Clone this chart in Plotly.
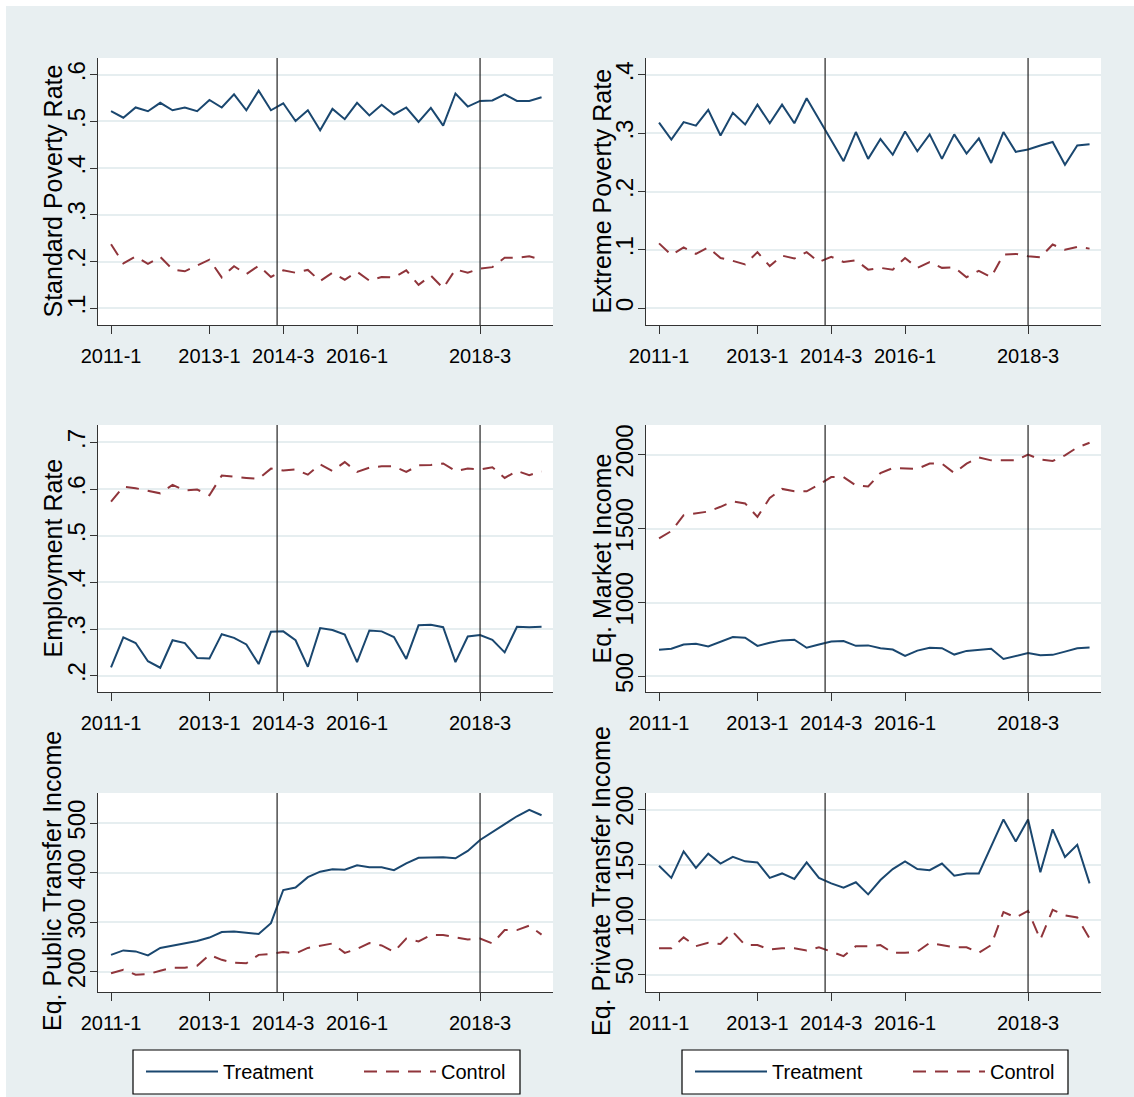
import plotly.graph_objects as go

# Quarterly periods 2011-1 ... 2019-4
periods = [f"{y}-{q}" for y in range(2011, 2020) for q in range(1, 5)]
x_idx = list(range(len(periods)))

xtick_vals = [0, 8, 14, 20, 30]
xtick_text = ["2011-1", "2013-1", "2014-3", "2016-1", "2018-3"]
event_lines = [13.5, 30]

pov_std_treat = [0.522, 0.508, 0.530, 0.522, 0.540, 0.524, 0.530, 0.522, 0.546, 0.530, 0.558, 0.524,
                 0.566, 0.524, 0.539, 0.501, 0.524, 0.481, 0.527, 0.505, 0.540, 0.513, 0.536, 0.515,
                 0.530, 0.499, 0.529, 0.491, 0.560, 0.532, 0.544, 0.545, 0.558, 0.544, 0.544, 0.552]
pov_std_ctrl = [0.237, 0.196, 0.211, 0.195, 0.210, 0.183, 0.179, 0.191, 0.204, 0.166, 0.190, 0.173,
                0.191, 0.167, 0.181, 0.176, 0.182, 0.158, 0.176, 0.161, 0.178, 0.159, 0.167, 0.166,
                0.181, 0.150, 0.170, 0.143, 0.183, 0.176, 0.185, 0.188, 0.208, 0.208, 0.211, 0.204]

pov_ext_treat = [0.318, 0.289, 0.319, 0.313, 0.340, 0.296, 0.335, 0.315, 0.349, 0.317, 0.349, 0.317,
                 0.360, 0.323, 0.288, 0.252, 0.302, 0.256, 0.290, 0.263, 0.303, 0.269, 0.298, 0.256,
                 0.298, 0.265, 0.291, 0.249, 0.302, 0.268, 0.272, 0.279, 0.285, 0.246, 0.279, 0.281]
pov_ext_ctrl = [0.111, 0.091, 0.104, 0.093, 0.104, 0.086, 0.081, 0.075, 0.096, 0.072, 0.090, 0.085,
                0.096, 0.079, 0.088, 0.079, 0.082, 0.066, 0.069, 0.066, 0.086, 0.069, 0.079, 0.069,
                0.070, 0.053, 0.064, 0.053, 0.092, 0.093, 0.089, 0.087, 0.109, 0.100, 0.105, 0.102]

emp_treat = [0.218, 0.282, 0.270, 0.231, 0.217, 0.276, 0.270, 0.238, 0.237, 0.289, 0.281, 0.267,
             0.225, 0.294, 0.295, 0.276, 0.219, 0.302, 0.298, 0.288, 0.229, 0.297, 0.295, 0.283,
             0.236, 0.308, 0.309, 0.304, 0.229, 0.284, 0.287, 0.277, 0.250, 0.305, 0.304, 0.305]
emp_ctrl = [0.573, 0.605, 0.602, 0.597, 0.591, 0.609, 0.597, 0.599, 0.587, 0.629, 0.626, 0.624,
            0.622, 0.644, 0.640, 0.642, 0.631, 0.653, 0.639, 0.658, 0.637, 0.646, 0.649, 0.649,
            0.637, 0.651, 0.652, 0.655, 0.639, 0.644, 0.642, 0.647, 0.624, 0.639, 0.630, 0.638]

mkt_treat = [680, 687, 716, 721, 703, 737, 766, 762, 707, 728, 744, 748,
             694, 716, 737, 739, 707, 710, 691, 682, 639, 675, 694, 691,
             648, 673, 680, 687, 618, 639, 659, 643, 646, 668, 691, 696]
mkt_ctrl = [1433, 1483, 1590, 1602, 1615, 1647, 1684, 1670, 1579, 1706, 1768, 1752,
            1752, 1797, 1848, 1848, 1791, 1784, 1875, 1909, 1909, 1904, 1939, 1939,
            1875, 1939, 1980, 1961, 1961, 1961, 2000, 1966, 1957, 1995, 2048, 2080]

pub_treat = [234, 243, 241, 233, 248, 253, 257, 262, 269, 280, 281, 279,
             276, 298, 365, 370, 391, 402, 407, 406, 415, 411, 411, 405,
             419, 430, 430, 431, 429, 444, 466, 482, 499, 514, 527, 516]
pub_ctrl = [197, 204, 194, 195, 202, 208, 208, 212, 234, 224, 218, 217,
            234, 236, 240, 237, 248, 253, 257, 238, 246, 258, 253, 240,
            267, 261, 274, 274, 269, 265, 267, 257, 284, 284, 293, 275]

priv_treat = [149, 138, 162, 147, 160, 151, 157, 153, 152, 138, 142, 137,
              152, 138, 133, 129, 134, 123, 136, 146, 153, 146, 145, 151,
              140, 142, 142, 166, 191, 171, 191, 143, 182, 157, 168, 133]
priv_ctrl = [74, 74, 84, 76, 79, 78, 89, 77, 77, 73, 74, 74,
             72, 75, 71, 67, 76, 76, 77, 70, 70, 71, 79, 77,
             75, 75, 70, 77, 107, 102, 108, 82, 109, 104, 102, 83]

panel_titles = ["Standard Poverty Rate", "Extreme Poverty Rate", "Employment Rate",
                "Eq. Market Income", "Eq. Public Transfer Income", "Eq. Private Transfer Income"]
treat_series = [pov_std_treat, pov_ext_treat, emp_treat, mkt_treat, pub_treat, priv_treat]
ctrl_series = [pov_std_ctrl, pov_ext_ctrl, emp_ctrl, mkt_ctrl, pub_ctrl, priv_ctrl]
ytick_vals = [[0.1, 0.2, 0.3, 0.4, 0.5, 0.6], [0, 0.1, 0.2, 0.3, 0.4], [0.2, 0.3, 0.4, 0.5, 0.6, 0.7],
              [500, 1000, 1500, 2000], [200, 300, 400, 500], [50, 100, 150, 200]]
ytick_text = [[".1", ".2", ".3", ".4", ".5", ".6"], ["0", ".1", ".2", ".3", ".4"],
              [".2", ".3", ".4", ".5", ".6", ".7"], ["500", "1000", "1500", "2000"],
              ["200", "300", "400", "500"], ["50", "100", "150", "200"]]
y_ranges = [[0.064, 0.636], [-0.029, 0.429], [0.165, 0.7375], [395, 2200], [159, 561], [34.4, 215]]

# ---- layout geometry (pixels) ----
W, H = 1134, 1097
col_px = [(98, 553), (646, 1101)]
row_px = [(58, 325), (425, 692), (793, 992)]
title_x_px = [52, 601]
title_y_px = [191.5, 558.5, 881]
legend_box_px = [(133, 520), (682, 1068)]
legend_y_px = (1050, 1094)

NAVY = "#1a476f"
MAROON = "#90353b"
GRID = "#e6eef0"
BG = "#e8eff1"
FONT = "Liberation Sans, Arial, sans-serif"


def px_x(v):
    return v / W


def px_y(v):
    return 1 - v / H


fig = go.Figure()
shapes = []
annotations = []
layout = {}

for k in range(6):
    r, c = divmod(k, 2)
    n = "" if k == 0 else str(k + 1)
    xa, ya = "x" + n, "y" + n
    x0, x1 = col_px[c]
    top, bot = row_px[r]
    legend_name = "legend" if c == 0 else "legend2"
    first = k < 2
    fig.add_trace(go.Scatter(
        x=x_idx, y=treat_series[k], mode="lines", name="Treatment",
        line=dict(color=NAVY, width=2), xaxis=xa, yaxis=ya,
        showlegend=first, legend=legend_name))
    fig.add_trace(go.Scatter(
        x=x_idx, y=ctrl_series[k], mode="lines", name="Control",
        line=dict(color=MAROON, width=2, dash="13px,9px"), xaxis=xa, yaxis=ya,
        showlegend=first, legend=legend_name))

    layout["xaxis" + n] = dict(
        domain=[px_x(x0), px_x(x1)], anchor=ya, range=[-1.06, 35.93],
        tickmode="array", tickvals=xtick_vals, ticktext=xtick_text, tickangle=0,
        ticks="outside", ticklen=8, tickcolor="#333", tickwidth=1,
        ticklabelstandoff=5,
        showline=True, linecolor="#333", linewidth=1, showgrid=False,
        zeroline=False, automargin=False,
        tickfont=dict(family=FONT, size=20, color="black"))
    layout["yaxis" + n] = dict(
        domain=[px_y(bot), px_y(top)], anchor=xa, range=y_ranges[k],
        tickmode="array", tickvals=ytick_vals[k], ticktext=ytick_text[k],
        tickangle=-90, ticks="outside", ticklen=7, tickcolor="#333", tickwidth=1,
        ticklabelstandoff=-5,
        showline=True, linecolor="#333", linewidth=1,
        showgrid=True, gridcolor=GRID, gridwidth=2, zeroline=False, automargin=False,
        tickfont=dict(family=FONT, size=24, color="black"))
    annotations.append(dict(
        text=panel_titles[k], textangle=-90, showarrow=False,
        xref="paper", yref="paper", x=px_x(title_x_px[c]), y=px_y(title_y_px[r]),
        xanchor="center", yanchor="middle",
        font=dict(family=FONT, size=25, color="black")))
    for xv in event_lines:
        shapes.append(dict(type="line", xref=xa, yref=ya + " domain", x0=xv, x1=xv,
                           y0=0, y1=1, line=dict(color="#222", width=1.2)))

# thin white frame on the top and left edges of the graph region
shapes.append(dict(type="rect", xref="paper", yref="paper", x0=0, x1=1, y0=px_y(6), y1=1,
                   fillcolor="white", line=dict(width=0), layer="below"))
shapes.append(dict(type="rect", xref="paper", yref="paper", x0=0, x1=px_x(6), y0=0, y1=1,
                   fillcolor="white", line=dict(width=0), layer="below"))

# legend frames
for lx0, lx1 in legend_box_px:
    shapes.append(dict(type="rect", xref="paper", yref="paper",
                       x0=px_x(lx0), x1=px_x(lx1), y0=px_y(legend_y_px[1]), y1=px_y(legend_y_px[0]),
                       fillcolor="white", line=dict(color="black", width=1.2), layer="above"))

legend_common = dict(orientation="h", bgcolor="rgba(0,0,0,0)", borderwidth=0,
                     font=dict(family=FONT, size=20, color="black"),
                     itemwidth=72, entrywidth=131, xanchor="left", yanchor="top",
                     y=px_y(legend_y_px[0] + 2), tracegroupgap=0)

fig.update_layout(
    width=W, height=H, margin=dict(l=0, r=0, t=0, b=0),
    paper_bgcolor=BG, plot_bgcolor="white",
    shapes=shapes, annotations=annotations,
    legend=dict(x=px_x(legend_box_px[0][0] + 8), **legend_common),
    legend2=dict(x=px_x(legend_box_px[1][0] + 8), **legend_common),
    **layout)

fig.write_html("out.html")
